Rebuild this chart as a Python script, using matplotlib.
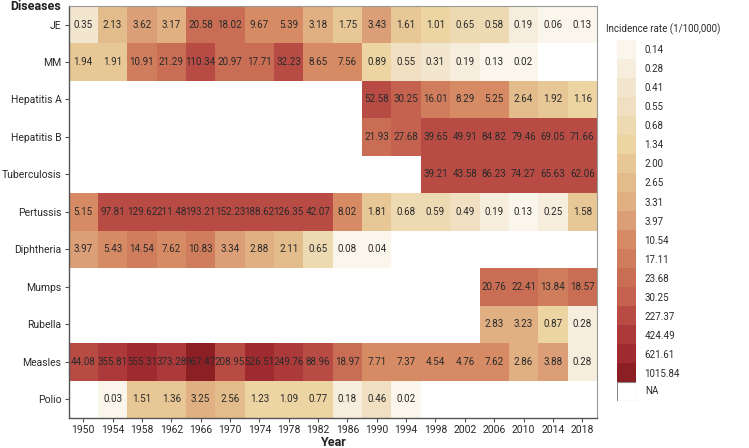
import numpy as np
import matplotlib
matplotlib.use("Agg")
import matplotlib.pyplot as plt
from matplotlib.colors import ListedColormap
from matplotlib.patches import Rectangle

plt.rcParams['font.family'] = ['Roboto', 'DejaVu Sans']

NA = np.nan
years = list(range(1950, 2019, 4))
diseases = ["JE", "MM", "Hepatitis A", "Hepatitis B", "Tuberculosis", "Pertussis",
            "Diphtheria", "Mumps", "Rubella", "Measles", "Polio"]

je = [0.35, 2.13, 3.62, 3.17, 20.58, 18.02, 9.67, 5.39, 3.18, 1.75, 3.43, 1.61, 1.01, 0.65, 0.58, 0.19, 0.06, 0.13]
mm = [1.94, 1.91, 10.91, 21.29, 110.34, 20.97, 17.71, 32.23, 8.65, 7.56, 0.89, 0.55, 0.31, 0.19, 0.13, 0.02, NA, NA]
hep_a = [NA] * 10 + [52.58, 30.25, 16.01, 8.29, 5.25, 2.64, 1.92, 1.16]
hep_b = [NA] * 10 + [21.93, 27.68, 39.65, 49.91, 84.82, 79.46, 69.05, 71.66]
tb = [NA] * 12 + [39.21, 43.58, 86.23, 74.27, 65.63, 62.06]
pertussis = [5.15, 97.81, 129.62, 211.48, 193.21, 152.23, 188.62, 126.35, 42.07, 8.02, 1.81, 0.68, 0.59, 0.49, 0.19, 0.13, 0.25, 1.58]
diphtheria = [3.97, 5.43, 14.54, 7.62, 10.83, 3.34, 2.88, 2.11, 0.65, 0.08, 0.04] + [NA] * 7
mumps = [NA] * 14 + [20.76, 22.41, 13.84, 18.57]
rubella = [NA] * 14 + [2.83, 3.23, 0.87, 0.28]
measles = [44.08, 355.81, 555.31, 373.28, 967.47, 208.95, 526.51, 249.76, 88.96, 18.97, 7.71, 7.37, 4.54, 4.76, 7.62, 2.86, 3.88, 0.28]
polio = [NA, 0.03, 1.51, 1.36, 3.25, 2.56, 1.23, 1.09, 0.77, 0.18, 0.46, 0.02] + [NA] * 6

breaks = [0.14, 0.28, 0.41, 0.55, 0.68, 1.34, 2.00, 2.65, 3.31, 3.97,
          10.54, 17.11, 23.68, 30.25, 227.37, 424.49, 621.61, 1015.84]
colors = ["#FBF6EB", "#F6EDDC", "#F3E6CE", "#F0DFC0", "#EEDAB2", "#ECD5A3",
          "#E6C795", "#E3BC8C", "#E0AF82", "#DB9E76", "#D68B65", "#D07D5D",
          "#C96E55", "#C4624F", "#B84C45", "#AC3A3A", "#9F2A2F", "#8C1F24"]

data = np.array([je, mm, hep_a, hep_b, tb, pertussis, diphtheria, mumps, rubella, measles, polio])
# bin index: first break >= value
bins = np.searchsorted(breaks, np.nan_to_num(data), side="left").astype(float)
bins = np.ma.masked_where(np.isnan(data), bins)
cmap = ListedColormap(colors)
txt = "#2a2a2a"

fig = plt.figure(figsize=(7.49, 4.48), dpi=100)
ax = fig.add_axes([0.0915, 0.067, 0.7055, 0.92])
ax.pcolormesh(np.arange(len(years) + 1) - 0.5, np.arange(len(diseases) + 1) - 0.5,
              bins, cmap=cmap, vmin=-0.5, vmax=len(colors) - 0.5)
ax.set_xlim(-0.5, len(years) - 0.5)
ax.set_ylim(len(diseases) - 0.5, -0.5)

for i in range(len(diseases)):
    for j in range(len(years)):
        v = data[i, j]
        if not np.isnan(v):
            ax.text(j, i, "%.2f" % v, ha="center", va="center", fontsize=7.1, color=txt)

ax.set_xticks(range(len(years)))
ax.set_xticklabels(years, fontsize=7.5, color=txt)
ax.set_yticks(range(len(diseases)))
ax.set_yticklabels(diseases, fontsize=7.5, color=txt)
ax.tick_params(length=3, width=0.8, color="#555555", pad=2)
ax.set_xlabel("Year", fontsize=9, fontweight="bold", color="#222222", labelpad=1)
for side in ["left", "bottom"]:
    ax.spines[side].set_color("#555555")
    ax.spines[side].set_linewidth(1)
for side in ["top", "right"]:
    ax.spines[side].set_color("#999999")
    ax.spines[side].set_linewidth(0.8)
fig.text(0.082, 0.986, "Diseases", ha="right", va="center", fontsize=9, fontweight="bold", color="#222222")

# legend
lax = fig.add_axes([0.824, 0.147, 0.0254, 0.764])
lax.pcolormesh([0, 1], np.arange(len(colors) + 1), np.arange(len(colors)).reshape(-1, 1),
               cmap=cmap, vmin=-0.5, vmax=len(colors) - 0.5)
lax.set_ylim(len(colors), 0)
lax.set_xlim(0, 1)
lax.set_xticks([])
lax.yaxis.tick_right()
lax.set_yticks(np.arange(len(colors)) + 0.5)
lax.set_yticklabels(["%.2f" % b for b in breaks], fontsize=7, color=txt)
lax.tick_params(length=0, pad=6)
for s in lax.spines.values():
    s.set_visible(False)
lax.set_title("Incidence rate (1/100,000)", fontsize=7, color=txt, loc="left", x=-0.6, pad=5)

nax = fig.add_axes([0.824, 0.105, 0.0254, 0.0424])
nax.add_patch(Rectangle((0, 0), 1, 1, facecolor="white", edgecolor="#888888", linewidth=0.8))
nax.set_xlim(0, 1)
nax.set_ylim(0, 1)
nax.axis("off")
nax.text(1.45, 0.5, "NA", transform=nax.transAxes, ha="left", va="center", fontsize=7, color=txt)

fig.savefig("out.png", dpi=100)
